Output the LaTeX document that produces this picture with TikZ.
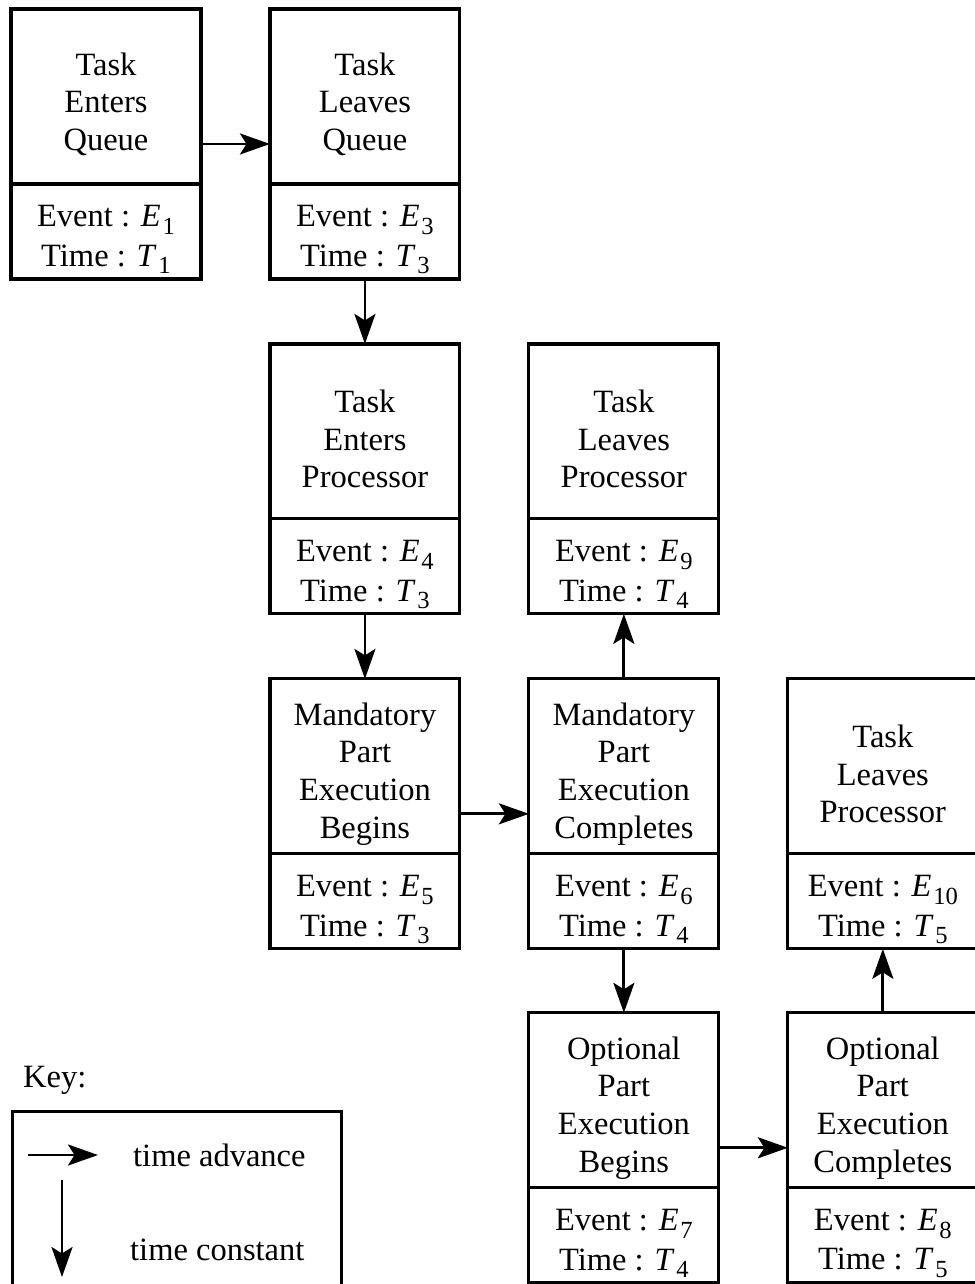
\documentclass[tikz,border=0pt]{standalone}
\usepackage{fontspec}
\setmainfont{Liberation Serif}
\usetikzlibrary{positioning,calc,arrows.meta}

\newcommand{\evsub}[2]{\textit{#1}\kern1pt\raisebox{-0.5ex}{\fontsize{14}{14}\selectfont #2}}
\newcommand{\up}{\rule{0pt}{21.5pt}}

\begin{document}
\begin{tikzpicture}[x=0.02cm, y=-0.02cm,
    head/.style={rectangle, draw, line width=1.8pt, outer sep=0pt, inner ysep=0pt, minimum width=3.8cm,
      minimum height=3.5cm, align=center, font=\fontsize{18.5}{21.4}\selectfont},
    foot/.style={rectangle, draw, line width=1.8pt, outer sep=0pt, inner ysep=0pt, minimum width=3.8cm,
      minimum height=1.9cm, align=center, font=\fontsize{18.5}{22.4}\selectfont},
    arr/.style={-{Stealth[length=0.6cm, width=0.42cm, inset=0.13cm]}, line width=1.6pt},
    keytext/.style={anchor=west, font=\fontsize{18.5}{21.4}\selectfont}]
    \useasboundingbox (0,0) rectangle (974,1284);

    % Row 1
    \node [head, anchor=north west] (teq) at (11,9) {\up Task\\Enters\\Queue};
    \node [foot, below=0pt of teq] (teqf) {\up Event : \evsub{E}{1}\\Time : \evsub{T}{1}};
    \node [head, right=1.38cm of teq] (tlq) {\up Task\\Leaves\\Queue};
    \node [foot, below=0pt of tlq] (tlqf) {\up Event : \evsub{E}{3}\\Time : \evsub{T}{3}};

    % Row 2
    \node [head, below=1.3cm of tlqf] (tep) {\up Task\\Enters\\Processor};
    \node [foot, below=0pt of tep] (tepf) {\up Event : \evsub{E}{4}\\Time : \evsub{T}{3}};
    \node [head, right=1.38cm of tep] (tlp) {\up Task\\Leaves\\Processor};
    \node [foot, below=0pt of tlp] (tlpf) {\up Event : \evsub{E}{9}\\Time : \evsub{T}{4}};

    % Row 3
    \node [head, below=1.3cm of tepf] (mpb) {\up Mandatory\\Part\\Execution\\Begins};
    \node [foot, below=0pt of mpb] (mpbf) {\up Event : \evsub{E}{5}\\Time : \evsub{T}{3}};
    \node [head, right=1.38cm of mpb] (mpc) {\up Mandatory\\Part\\Execution\\Completes};
    \node [foot, below=0pt of mpc] (mpcf) {\up Event : \evsub{E}{6}\\Time : \evsub{T}{4}};
    \node [head, right=1.38cm of mpc] (tlpb) {\up Task\\Leaves\\Processor};
    \node [foot, below=0pt of tlpb] (tlpbf) {\up Event : \evsub{E}{10}\\Time : \evsub{T}{5}};

    % Row 4
    \node [head, below=1.28cm of mpcf] (opb) {\up Optional\\Part\\Execution\\Begins};
    \node [foot, below=0pt of opb] (opbf) {\up Event : \evsub{E}{7}\\Time : \evsub{T}{4}};
    \node [head, right=1.38cm of opb] (opc) {\up Optional\\Part\\Execution\\Completes};
    \node [foot, below=0pt of opc] (opcf) {\up Event : \evsub{E}{8}\\Time : \evsub{T}{5}};

    % Arrows
    \draw [arr] ($(teq.north east)!0.5!(teqf.south east)$) -- ($(tlq.north west)!0.5!(tlqf.south west)$);
    \draw [arr] (tlqf) -- (tep);
    \draw [arr] (tepf) -- (mpb);
    \draw [arr] ($(mpb.north east)!0.5!(mpbf.south east)$) -- ($(mpc.north west)!0.5!(mpcf.south west)$);
    \draw [arr] (mpc) -- (tlpf);
    \draw [arr] (mpcf) -- (opb);
    \draw [arr] ($(opb.north east)!0.5!(opbf.south east)$) -- ($(opc.north west)!0.5!(opcf.south west)$);
    \draw [arr] (opc) -- (tlpbf);

    % Key
    \node [keytext] (key) at (17,1080) {Key:};
    \node [rectangle, draw, line width=1.8pt, anchor=north west, minimum width=6.58cm,
      minimum height=3.8cm] (keybox) at (11,1110) {};
    \coordinate (ra) at (28,1155);
    \coordinate (rb) at (98,1155);
    \coordinate (da) at (62,1180);
    \coordinate (db) at (62,1277);
    \draw [arr] (ra) -- (rb);
    \draw [arr] (da) -- (db);
    \node [keytext] (adv) at (127,1155) {time advance};
    \node [keytext] (con) at (124,1250) {time constant};
\end{tikzpicture}
\end{document}
